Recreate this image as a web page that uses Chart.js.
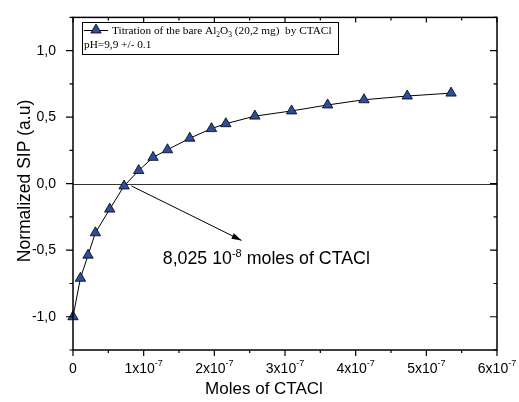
<!DOCTYPE html>
<html>
<head>
<meta charset="utf-8">
<script src="https://cdn.jsdelivr.net/npm/chart.js@4.4.0/dist/chart.umd.min.js"></script>
<style>
  body { margin: 0; background: #fff; }
  canvas { display: block; }
</style>
</head>
<body>
<canvas id="sipChart" width="519" height="402"></canvas>
<script>
// moles of CTACl added
const moles = [0, 1.05e-8, 2.13e-8, 3.17e-8, 5.2e-8, 7.23e-8, 9.3e-8, 1.133e-7, 1.337e-7,
  1.653e-7, 1.96e-7, 2.163e-7, 2.574e-7, 3.093e-7, 3.603e-7, 4.118e-7, 4.73e-7, 5.35e-7];
// normalized SIP
const sip = [-1.0, -0.711, -0.537, -0.369, -0.191, -0.017, 0.099, 0.198, 0.255,
  0.342, 0.414, 0.451, 0.508, 0.547, 0.592, 0.631, 0.659, 0.681];

const xTicks = [0, 1e-7, 2e-7, 3e-7, 4e-7, 5e-7, 6e-7];
const xTickBase = ["0", "1x10", "2x10", "3x10", "4x10", "5x10", "6x10"];
const xTickExp = ["", "-7", "-7", "-7", "-7", "-7", "-7"];
const xMinor = [0.5e-7, 1.5e-7, 2.5e-7, 3.5e-7, 4.5e-7, 5.5e-7];
const yTicks = [-1.0, -0.5, 0.0, 0.5, 1.0];
const yMinor = [-1.25, -0.75, -0.25, 0.25, 0.75, 1.25];

const seriesLabel = "Titration of the bare Al2O3 (20,2 mg)  by CTACl";
const noteText = ["8,025 10", "-8", " moles of CTACl"];
// annotation arrow: from near the crossing point to below the text start
const arrowFrom = [8.27e-8, -0.017];
const arrowTo = [2.385e-7, -0.426];
const notePos = [1.27e-7, -0.602];

const markFill = "#2d4e9e";
const sansFont = "'Liberation Sans', Arial, sans-serif";
const serifFont = "'Liberation Serif', 'Times New Roman', serif";

function tri(ctx, x, y, r) {
  ctx.beginPath();
  ctx.moveTo(x, y - r);
  ctx.lineTo(x + 0.866 * r, y + 0.5 * r);
  ctx.lineTo(x - 0.866 * r, y + 0.5 * r);
  ctx.closePath();
  ctx.fillStyle = markFill;
  ctx.fill();
  ctx.strokeStyle = "#000";
  ctx.lineWidth = 0.8;
  ctx.stroke();
}

const framePlugin = {
  id: "frame",
  beforeDatasetsDraw(chart) {
    const ctx = chart.ctx;
    const a = chart.chartArea;
    const y = chart.scales.y;
    ctx.save();
    // zero line
    ctx.strokeStyle = "#333";
    ctx.lineWidth = 1;
    ctx.beginPath();
    ctx.moveTo(a.left, Math.round(y.getPixelForValue(0)) + 0.5);
    ctx.lineTo(a.right, Math.round(y.getPixelForValue(0)) + 0.5);
    ctx.stroke();
    ctx.restore();
  },
  afterDraw(chart) {
    const ctx = chart.ctx;
    const a = chart.chartArea;
    const x = chart.scales.x;
    const y = chart.scales.y;
    ctx.save();
    ctx.strokeStyle = "#000";
    ctx.lineWidth = 1.5;
    ctx.strokeRect(a.left, a.top, a.right - a.left, a.bottom - a.top);

    ctx.lineWidth = 1.2;
    ctx.beginPath();
    xTicks.forEach((v) => {
      const px = x.getPixelForValue(v);
      ctx.moveTo(px, a.bottom); ctx.lineTo(px, a.bottom + 6);
      ctx.moveTo(px, a.top); ctx.lineTo(px, a.top + 5);
    });
    xMinor.forEach((v) => {
      const px = x.getPixelForValue(v);
      ctx.moveTo(px, a.bottom); ctx.lineTo(px, a.bottom + 3);
      ctx.moveTo(px, a.top); ctx.lineTo(px, a.top + 3);
    });
    yTicks.forEach((v) => {
      const py = y.getPixelForValue(v);
      ctx.moveTo(a.left - 7, py); ctx.lineTo(a.left, py);
      ctx.moveTo(a.right - 7, py); ctx.lineTo(a.right, py);
    });
    yMinor.forEach((v) => {
      const py = y.getPixelForValue(v);
      ctx.moveTo(a.left - 3.5, py); ctx.lineTo(a.left, py);
      ctx.moveTo(a.right - 3.5, py); ctx.lineTo(a.right, py);
    });
    ctx.stroke();

    // x tick labels with superscript
    ctx.fillStyle = "#000";
    ctx.textBaseline = "alphabetic";
    xTicks.forEach((v, i) => {
      const px = x.getPixelForValue(v);
      ctx.font = "14px " + sansFont;
      const w1 = ctx.measureText(xTickBase[i]).width;
      ctx.font = "9px " + sansFont;
      const w2 = ctx.measureText(xTickExp[i]).width;
      const left = px - (w1 + w2) / 2;
      ctx.textAlign = "left";
      ctx.font = "14px " + sansFont;
      ctx.fillText(xTickBase[i], left, a.bottom + 23);
      ctx.font = "9px " + sansFont;
      ctx.fillText(xTickExp[i], left + w1, a.bottom + 16);
    });

    // axis titles
    ctx.font = "17px " + sansFont;
    ctx.textAlign = "center";
    ctx.textBaseline = "middle";
    ctx.fillText("Moles of CTACl", 264, 389);
    ctx.save();
    ctx.translate(25, 181);
    ctx.rotate(-Math.PI / 2);
    ctx.font = "17.5px " + sansFont;
    ctx.fillText("Normalized SIP (a.u)", 0, 0);
    ctx.restore();

    // annotation arrow
    const x0 = x.getPixelForValue(arrowFrom[0]), y0 = y.getPixelForValue(arrowFrom[1]);
    const x1 = x.getPixelForValue(arrowTo[0]), y1 = y.getPixelForValue(arrowTo[1]);
    ctx.lineWidth = 1;
    ctx.beginPath();
    ctx.moveTo(x0, y0);
    ctx.lineTo(x1, y1);
    ctx.stroke();
    const ang = Math.atan2(y1 - y0, x1 - x0);
    ctx.beginPath();
    ctx.moveTo(x1, y1);
    ctx.lineTo(x1 - 10 * Math.cos(ang) + 3 * Math.sin(ang), y1 - 10 * Math.sin(ang) - 3 * Math.cos(ang));
    ctx.lineTo(x1 - 10 * Math.cos(ang) - 3 * Math.sin(ang), y1 - 10 * Math.sin(ang) + 3 * Math.cos(ang));
    ctx.closePath();
    ctx.fill();

    // annotation text
    const tx = x.getPixelForValue(notePos[0]);
    const ty = y.getPixelForValue(notePos[1]);
    ctx.textAlign = "left";
    ctx.textBaseline = "alphabetic";
    ctx.font = "17.8px " + sansFont;
    ctx.fillText(noteText[0], tx, ty);
    let cx = tx + ctx.measureText(noteText[0]).width;
    ctx.font = "11px " + sansFont;
    ctx.fillText(noteText[1], cx, ty - 7);
    cx += ctx.measureText(noteText[1]).width;
    ctx.font = "17.8px " + sansFont;
    ctx.fillText(noteText[2], cx, ty);

    // legend box
    ctx.fillStyle = "#fff";
    ctx.fillRect(82, 22, 256, 32);
    ctx.lineWidth = 1;
    ctx.strokeStyle = "#000";
    ctx.strokeRect(82.5, 22.5, 256, 32);
    ctx.beginPath();
    ctx.moveTo(84, 30.5); ctx.lineTo(108, 30.5);
    ctx.stroke();
    tri(ctx, 96, 30, 6);
    ctx.fillStyle = "#000";
    let lx = 112;
    const parts = [["Titration of the bare Al", 0], ["2", 1], ["O", 0], ["3", 1], [" (20,2 mg)  by CTACl", 0]];
    parts.forEach((p) => {
      ctx.font = (p[1] ? "7.5px " : "11.3px ") + serifFont;
      ctx.fillText(p[0], lx, p[1] ? 37 : 34);
      lx += ctx.measureText(p[0]).width;
    });
    ctx.font = "11.3px " + serifFont;
    ctx.fillText("pH=9,9 +/- 0.1", 84, 48);
    ctx.restore();
  },
};

document.addEventListener("DOMContentLoaded", function () {
  const ctx = document.getElementById("sipChart");
  new Chart(ctx, {
    type: "scatter",
    data: {
      datasets: [
        {
          label: seriesLabel,
          data: moles.map((m, i) => ({ x: m, y: sip[i] })),
          showLine: true,
          borderColor: "#000",
          borderWidth: 1,
          pointStyle: "triangle",
          pointRadius: 6,
          pointBackgroundColor: markFill,
          pointBorderColor: "#000",
          pointBorderWidth: 0.8,
          clip: false,
        },
      ],
    },
    plugins: [framePlugin],
    options: {
      responsive: false,
      animation: false,
      layout: { padding: { left: 0, top: 13, right: 22, bottom: 0 } },
      plugins: {
        legend: { display: false },
        tooltip: { enabled: false },
      },
      scales: {
        x: {
          type: "linear",
          min: 0,
          max: 6e-7,
          grid: { display: false },
          border: { display: false },
          ticks: { display: false },
          afterBuildTicks: (scale) => {
            scale.ticks = xTicks.map((v) => ({ value: v }));
          },
          afterFit: (scale) => {
            scale.height = 52;
          },
        },
        y: {
          type: "linear",
          min: -1.25,
          max: 1.25,
          grid: { display: false },
          border: { display: false },
          ticks: {
            color: "#000",
            padding: 9,
            font: { family: sansFont, size: 14 },
            callback: (v) => v.toFixed(1).replace(".", ","),
          },
          afterBuildTicks: (scale) => {
            scale.ticks = yTicks.map((v) => ({ value: v }));
          },
          afterFit: (scale) => {
            scale.width = 73;
          },
        },
      },
    },
  });
});
</script>
</body>
</html>
